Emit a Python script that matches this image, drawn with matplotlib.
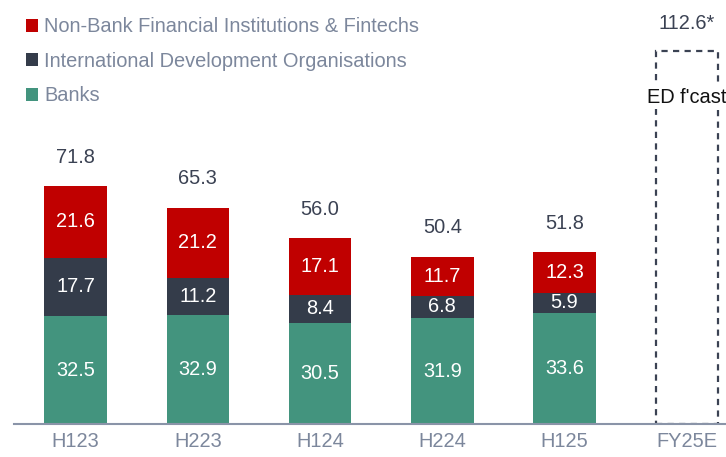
import numpy as np
import matplotlib.pyplot as plt

plt.rcParams['font.family'] = ['Liberation Sans', 'DejaVu Sans']

# data
periods = ["H123", "H223", "H124", "H224", "H125", "FY25E"]
banks = [32.5, 32.9, 30.5, 31.9, 33.6]
intl_dev = [17.7, 11.2, 8.4, 6.8, 5.9]
nonbank = [21.6, 21.2, 17.1, 11.7, 12.3]
totals = [71.8, 65.3, 56.0, 50.4, 51.8]
forecast = 112.6

green = "#43947e"
dark = "#343c4a"
red = "#c00000"
label_grey = "#7c879c"
total_col = "#3b4253"
fs = 14.4

fig = plt.figure(figsize=(7.26, 4.57), dpi=100)
ax = fig.add_axes([0, 33 / 457, 1, 424 / 457])

x = np.arange(len(banks))
w = 0.51
b1 = np.array(banks)
b2 = b1 + np.array(intl_dev)

ax.bar(x, banks, w, color=green, label="Banks")
ax.bar(x, intl_dev, w, bottom=b1, color=dark, label="International Development Organisations")
ax.bar(x, nonbank, w, bottom=b2, color=red, label="Non-Bank Financial Institutions & Fintechs")

# segment labels
for i in range(len(banks)):
    ax.text(x[i], banks[i] / 2, f"{banks[i]:.1f}", ha="center", va="center", color="white", fontsize=fs)
    ax.text(x[i], b1[i] + intl_dev[i] / 2, f"{intl_dev[i]:.1f}", ha="center", va="center", color="white", fontsize=fs)
    ax.text(x[i], b2[i] + nonbank[i] / 2, f"{nonbank[i]:.1f}", ha="center", va="center", color="white", fontsize=fs)
    ax.annotate(f"{totals[i]:.1f}", (x[i], totals[i]), xytext=(0, 14), textcoords="offset points",
                ha="center", va="bottom", color=total_col, fontsize=fs)

# forecast box
fx = len(banks)
ax.bar(fx, forecast, w, fill=False, edgecolor=total_col, linestyle=(0, (2.8, 2.4)), linewidth=1.6)
ax.annotate(f"{forecast:.1f}*", (fx, forecast), xytext=(0, 13), textcoords="offset points",
            ha="center", va="bottom", color=total_col, fontsize=fs)
ax.text(fx, 98.6, "ED f'cast", ha="center", va="center", color="#111111", fontsize=fs,
        bbox=dict(facecolor="white", edgecolor="none", pad=2))

ax.set_xlim(-0.618, 5.32)
ax.set_ylim(0, 127.9)
ax.set_xticks(range(len(periods)))
ax.set_xticklabels(periods, color=label_grey, fontsize=fs)
ax.tick_params(axis="x", length=0, pad=6)
ax.set_yticks([])
for s in ["top", "right", "left"]:
    ax.spines[s].set_visible(False)
ax.spines["bottom"].set_color("#8a94a8")
ax.spines["bottom"].set_linewidth(1.5)
ax.spines["bottom"].set_bounds(-0.5, 5.32)
ax.patch.set_alpha(0)

# legend
h, l = ax.get_legend_handles_labels()
leg = fig.legend(h[::-1], l[::-1], loc="upper left", bbox_to_anchor=(0.016, 0.993), frameon=False,
                 fontsize=fs, handlelength=0.62, handleheight=0.62, handletextpad=0.3,
                 labelspacing=0.78, borderaxespad=0.3)
for t in leg.get_texts():
    t.set_color(label_grey)

fig.savefig("out.png", dpi=100)
